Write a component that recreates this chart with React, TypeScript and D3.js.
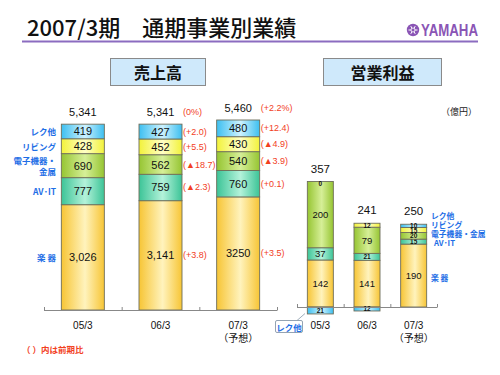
import React from "react";
import * as d3 from "d3";

const periods = ["05/3", "06/3", "07/3"];
const periodNotes = ["", "", "（予想）"];
const segmentKeys = ["gakki", "avit", "denshi", "living", "reku"];
const segmentNames = ["楽 器", "AV･IT", "電子機器・金属", "リビング", "レク他"];
const segmentNamesLeft = [["楽 器"], ["AV･IT"], ["電子機器・", "金属"], ["リビング"], ["レク他"]];

// Sales (億円)
const salesGakki = [3026, 3141, 3250];
const salesAvit = [777, 759, 760];
const salesDenshi = [690, 562, 540];
const salesLiving = [428, 452, 430];
const salesReku = [419, 427, 480];
const salesGakkiText = ["3,026", "3,141", "3250"];
const salesTotal = [5341, 5341, 5460];
const changeTotal = ["", "(0%)", "(+2.2%)"];
const changeGakki = ["", "(+3.8)", "(+3.5)"];
const changeAvit = ["", "(▲2.3)", "(+0.1)"];
const changeDenshi = ["", "(▲18.7)", "(▲3.9)"];
const changeLiving = ["", "(+5.5)", "(▲4.9)"];
const changeReku = ["", "(+2.0)", "(+12.4)"];

// Operating income (億円)
const profitGakki = [142, 141, 190];
const profitAvit = [37, 21, 15];
const profitDenshi = [200, 79, 20];
const profitLiving = [0, 12, 15];
const profitReku = [-21, -12, 10];
const profitTotal = [357, 241, 250];

const segColors: Record<string, [string, string]> = {
  gakki: ["#f7c535", "#fff3bd"],
  avit: ["#3cc497", "#b4f2da"],
  denshi: ["#96c532", "#d6ef98"],
  living: ["#f2f23a", "#ffffc6"],
  reku: ["#3dbff0", "#cdf2ff"],
};

const JP = "'Noto Sans CJK JP', 'Noto Sans', sans-serif";
const NUM = "'Liberation Sans', Arial, sans-serif";
const BLUE = "#1e6ee6";
const RED = "#f2401e";

function buildRows(cols: number[][]) {
  return periods.map((p, i) => {
    const r: any = { period: p };
    segmentKeys.forEach((k, j) => (r[k] = cols[j][i]));
    return r;
  });
}

const salesRows = buildRows([salesGakki, salesAvit, salesDenshi, salesLiving, salesReku]);
const profitRows = buildRows([profitGakki, profitAvit, profitDenshi, profitLiving, profitReku]);
const salesChanges = [changeGakki, changeAvit, changeDenshi, changeLiving, changeReku];

function divergingStack(rows: any[]) {
  const s = d3.stack<any>().keys(segmentKeys).offset(d3.stackOffsetDiverging)(rows);
  // place zero-valued segments on top of the positive stack reached so far
  rows.forEach((_, i) => {
    let top = 0;
    s.forEach((layer) => {
      const d = layer[i];
      if (d[1] - d[0] === 0) {
        d[0] = top;
        d[1] = top;
      } else if (d[1] > 0) {
        top = d[1];
      }
    });
  });
  return s;
}

export default function App() {
  const salesStack = divergingStack(salesRows);
  const profitStack = divergingStack(profitRows);

  // Left chart scales
  const lBase = 310;
  const xL = d3.scaleBand().domain(periods).range([44, 277]).padding(0);
  const yL = d3.scaleLinear().domain([0, d3.max(salesTotal)!]).range([lBase, 120]);
  const bwL = 43;
  // Right chart scales
  const rBase = 307;
  const xR = d3.scaleBand().domain(periods).range([297, 437]).padding(0);
  const yR = d3.scaleLinear().domain([0, 380]).range([rBase, 181.2]);
  const bwR = 26;

  const fmt = d3.format(",");

  const gradDefs = segmentKeys.map((k) => (
    <linearGradient key={k} id={`g-${k}`} x1="0" x2="1" y1="0" y2="0">
      <stop offset="0" stopColor={segColors[k][0]} />
      <stop offset="0.55" stopColor={segColors[k][1]} />
      <stop offset="1" stopColor={segColors[k][0]} />
    </linearGradient>
  ));

  const bandTicks = (x: d3.ScaleBand<string>) => {
    const ticks = periods.map((p) => x(p)!);
    ticks.push(x.range()[1]);
    return ticks;
  };

  // Right legend label positions
  const legendTop = 215;
  const legendStep = 9.3;

  return (
    <svg width={500} height={375} style={{ position: "absolute", left: 0, top: 0, background: "#fff" }}>
      <defs>{gradDefs}</defs>

      {/* Header */}
      <text x={27} y={36} fontFamily={JP} fontSize={22} fontWeight={500} fill="#111">
        2007/3期　通期事業別業績
      </text>
      <line x1={22} x2={478} y1={41.5} y2={41.5} stroke="#8b6cc0" strokeWidth={2} />
      <g>
        <circle cx={413} cy={30} r={6.2} fill="#8a55b5" />
        {d3.range(3).map((i) => {
          const a = (i * Math.PI) / 3;
          return (
            <line key={i} x1={413 + Math.cos(a) * 4.5} y1={30 + Math.sin(a) * 4.5}
              x2={413 - Math.cos(a) * 4.5} y2={30 - Math.sin(a) * 4.5} stroke="#fff" strokeWidth={1} />
          );
        })}
        <circle cx={413} cy={30} r={2} fill="#8a55b5" stroke="#fff" strokeWidth={0.8} />
        <text x={421} y={36} fontFamily="'Liberation Sans Narrow', 'Liberation Sans', Arial, sans-serif"
          fontSize={16} fontWeight={700} fill="#8a55b5" textLength={57} lengthAdjust="spacingAndGlyphs">
          YAMAHA
        </text>
      </g>

      {/* Panel titles */}
      <rect x={110.5} y={58.5} width={95} height={27} fill="#cfe9fb" stroke="#8a8a8a" />
      <text x={158} y={72} textAnchor="middle" dominantBaseline="central" fontFamily={JP} fontSize={16} fontWeight={700} fill="#111">
        売上高
      </text>
      <rect x={323.5} y={58.5} width={118} height={27} fill="#cfe9fb" stroke="#8a8a8a" />
      <text x={382.5} y={72} textAnchor="middle" dominantBaseline="central" fontFamily={JP} fontSize={16} fontWeight={700} fill="#111">
        営業利益
      </text>
      <text x={441} y={111} dominantBaseline="central" fontFamily={JP} fontSize={9} fill="#222">
        （億円）
      </text>

      {/* Left chart: sales */}
      <g>
        {salesStack.map((layer, j) =>
          layer.map((d, i) => {
            const cx = xL(periods[i])! + xL.bandwidth() / 2;
            const y0 = yL(d[1]);
            const y1 = yL(d[0]);
            const val = d[1] - d[0];
            const label = layer.key === "gakki" ? salesGakkiText[i] : fmt(val);
            return (
              <g key={`${layer.key}-${i}`}>
                <rect x={cx - bwL / 2} y={y0} width={bwL} height={y1 - y0}
                  fill={`url(#g-${layer.key})`} stroke="#6e6e5a" strokeWidth={0.9} />
                <text x={cx} y={(y0 + y1) / 2} textAnchor="middle" dominantBaseline="central"
                  fontFamily={NUM} fontSize={11} fill="#111">{label}</text>
                {salesChanges[j][i] && (
                  <text x={cx + bwL / 2 + 1} y={(y0 + y1) / 2} dominantBaseline="central"
                    fontFamily={NUM} fontSize={9} fill={RED}>{salesChanges[j][i]}</text>
                )}
              </g>
            );
          })
        )}
        {periods.map((p, i) => {
          const cx = xL(p)! + xL.bandwidth() / 2;
          const yt = yL(salesTotal[i]) - 12;
          return (
            <g key={p}>
              <text x={cx} y={yt} textAnchor="middle" dominantBaseline="central" fontFamily={NUM} fontSize={11} fill="#111">
                {fmt(salesTotal[i])}
              </text>
              {changeTotal[i] && (
                <text x={cx + bwL / 2 + 1} y={yt} dominantBaseline="central" fontFamily={NUM} fontSize={9} fill={RED}>
                  {changeTotal[i]}
                </text>
              )}
              <text x={cx} y={325} textAnchor="middle" dominantBaseline="central" fontFamily={NUM} fontSize={10} fill="#111">{p}</text>
              {periodNotes[i] && (
                <text x={cx} y={337} textAnchor="middle" dominantBaseline="central" fontFamily={JP} fontSize={10} fill="#111">{periodNotes[i]}</text>
              )}
            </g>
          );
        })}
        <line x1={44} x2={277} y1={lBase + 0.5} y2={lBase + 0.5} stroke="#888" />
        {bandTicks(xL).map((t, i) => (
          <line key={i} x1={t + 0.5} x2={t + 0.5} y1={lBase + 0.5} y2={lBase - 3} stroke="#888" />
        ))}
        {/* Left segment names at centers of first bar */}
        {salesStack.map((layer, j) => {
          const d = layer[0];
          const yc = (yL(d[0]) + yL(d[1])) / 2;
          const lines = segmentNamesLeft[j];
          return lines.map((ln, k) => (
            <text key={`${j}-${k}`} x={56} y={yc + (k - (lines.length - 1) / 2) * 11} textAnchor="end"
              dominantBaseline="central" fontFamily={JP} fontSize={8.5} fontWeight={700} fill={BLUE}>{ln}</text>
          ));
        })}
        <text x={22} y={349} dominantBaseline="central" fontFamily={JP} fontSize={8.5} fontWeight={700} fill={RED}>
          （ ）内は前期比
        </text>
      </g>

      {/* Right chart: operating income */}
      <g>
        {profitStack.map((layer) =>
          layer.map((d, i) => {
            const cx = xR(periods[i])! + xR.bandwidth() / 2;
            const y0 = yR(Math.max(d[0], d[1]));
            const y1 = yR(Math.min(d[0], d[1]));
            const val = d[1] - d[0];
            const h = y1 - y0;
            const neg = val < 0;
            return (
              <g key={`${layer.key}-${i}`}>
                <rect x={cx - bwR / 2} y={y0} width={bwR} height={h}
                  fill={`url(#g-${layer.key})`} stroke="#6e6e5a" strokeWidth={0.9} />
                {neg ? (
                  <text x={cx} y={(y0 + y1) / 2 + 0.5} textAnchor="middle" dominantBaseline="central" fill="#111">
                    <tspan fontFamily={JP} fontSize={9}>▲</tspan>
                    <tspan fontFamily={NUM} fontSize={9}>{Math.abs(val)}</tspan>
                  </text>
                ) : (
                  <text x={cx} y={(y0 + y1) / 2 + (h < 1 ? 2 : 0)} textAnchor="middle" dominantBaseline="central"
                    fontFamily={NUM} fontSize={h < 8 ? 6.5 : 9.5} fontWeight={h < 8 ? 700 : 400} fill="#111">{val}</text>
                )}
              </g>
            );
          })
        )}
        {periods.map((p, i) => {
          const cx = xR(p)! + xR.bandwidth() / 2;
          const posTop = d3.max(profitStack, (l) => l[i][1])!;
          return (
            <g key={p}>
              <text x={cx} y={yR(posTop) - 13} textAnchor="middle" dominantBaseline="central" fontFamily={NUM} fontSize={11.5} fill="#111">
                {profitTotal[i]}
              </text>
              <text x={cx} y={325} textAnchor="middle" dominantBaseline="central" fontFamily={NUM} fontSize={10} fill="#111">{p}</text>
              {periodNotes[i] && (
                <text x={cx} y={337} textAnchor="middle" dominantBaseline="central" fontFamily={JP} fontSize={10} fill="#111">{periodNotes[i]}</text>
              )}
            </g>
          );
        })}
        <line x1={297} x2={437} y1={rBase + 0.5} y2={rBase + 0.5} stroke="#888" />
        {bandTicks(xR).map((t, i) => (
          <line key={i} x1={t + 0.5} x2={t + 0.5} y1={rBase + 0.5} y2={rBase - 3} stroke="#888" />
        ))}
        {/* Right legend labels */}
        {segmentNames.map((name, j) => {
          let y: number;
          if (j === 0) {
            const d = profitStack[0][2];
            y = (yR(d[0]) + yR(d[1])) / 2 + 2;
          } else {
            y = legendTop + (segmentNames.length - 1 - j) * legendStep;
          }
          return (
            <text key={name} x={j === 1 ? 434 : 431} y={y} dominantBaseline="central" fontFamily={JP}
              fontSize={7.8} fontWeight={700} fill={BLUE}>{name}</text>
          );
        })}
        {/* Callout for negative レク他 */}
        <line x1={297} y1={320.5} x2={305} y2={313.5} stroke="#8899aa" strokeWidth={0.8} />
        <rect x={275.5} y={320.5} width={27} height={12} rx={1.5} fill="#fff" stroke="#8899aa" strokeWidth={0.9} />
        <text x={289} y={326.8} textAnchor="middle" dominantBaseline="central" fontFamily={JP} fontSize={8.5} fontWeight={700} fill={BLUE}>
          レク他
        </text>
      </g>
    </svg>
  );
}
